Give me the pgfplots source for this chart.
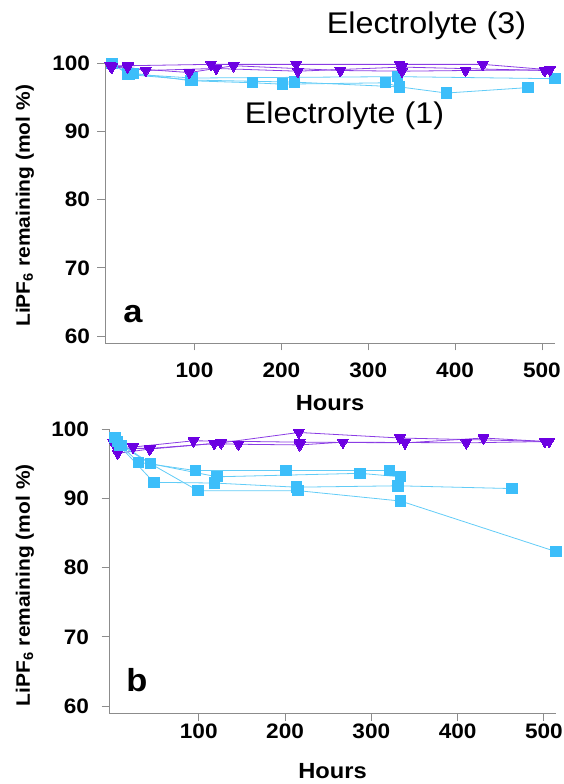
\documentclass[border=0pt]{standalone}
\usepackage{fontspec}
\setmainfont{Liberation Sans}[FakeStretch=1.08]
\usepackage{pgfplots}
\pgfplotsset{compat=1.18}

\definecolor{sqblue}{HTML}{3CBEFA}
\definecolor{sqline}{HTML}{62CCF7}
\definecolor{tripurple}{HTML}{6C00E2}
\definecolor{triline}{HTML}{8A3CE4}
\definecolor{axgray}{HTML}{8C8C8C}

\pgfplotsset{
  panel/.style={
    scale only axis,
    axis x line*=bottom, axis y line*=left,
    axis line style={-, draw=axgray, line width=0.9pt},
    tick style={draw=axgray, line width=0.9pt},
    tick align=outside, major tick length=7.5bp,
    xtick={100,200,300,400,500}, ytick={60,70,80,90,100},
    ymin=59, ymax=100,
    clip=false,
    /pgf/number format/assume math mode=true,
    ticklabel style={font=\fontsize{21}{24}\selectfont\bfseries},
    ylabel={\fontsize{19.5}{22}\selectfont\bfseries LiPF\textsubscript{6} remaining (mol \%)},
    xlabel={\fontsize{22}{26}\selectfont\bfseries Hours},
  },
  eone/.style={color=sqline, line width=0.8pt, mark=square*, mark size=5.2bp,
    mark options={fill=sqblue, draw=sqblue, line width=0pt}},
  ethree/.style={color=triline, line width=0.8pt, mark=triangle*, mark size=6.3bp,
    mark options={rotate=180, fill=tripurple, draw=tripurple, line width=0pt}},
}

\begin{document}
\begin{tikzpicture}
\path[use as bounding box] (0,0) rectangle (564bp,784bp);

% panel a
\begin{axis}[panel, at={(105bp,441bp)}, anchor=south west,
  width=450bp, height=280bp, xmin=-3, xmax=515,
  xticklabel style={yshift=-9bp},
  yticklabel style={xshift=-4bp},
  ylabel style={at={(axis description cs:-0.178,0.49)}, anchor=center},
  xlabel style={at={(axis description cs:0.5,0)}, anchor=center, yshift=-60bp},
]
\addplot[eone] coordinates {(5,99.9) (23,98.4) (98,97.8) (334,98.0) (515,97.7)};
\addplot[eone] coordinates {(5,99.9) (30,98.5) (96,97.4) (167,97.1) (201,96.9) (320,97.1) (336,96.5)};
\addplot[eone] coordinates {(5,99.9) (25,98.3) (98,97.5) (215,97.2) (336,96.5) (390,95.6) (484,96.4)};
\addplot[ethree] coordinates {(3,99.6) (23,99.6) (119,99.8) (217,99.8) (336,99.8) (432,99.8) (509,99.0)};
\addplot[ethree] coordinates {(3,99.6) (23,99.4) (44,98.9) (125,99.2) (219,98.8) (339,99.4) (503,98.9)};
\addplot[ethree] coordinates {(5,99.4) (94,98.6) (145,99.6) (268,98.9) (339,98.8) (412,98.9) (509,99.0)};
\end{axis}

% panel b
\begin{axis}[panel, at={(109bp,71bp)}, anchor=south west,
  width=447bp, height=284bp, xmin=-4, xmax=514,
  yticklabel style={xshift=-9bp},
  ylabel style={at={(axis description cs:-0.188,0.45)}, anchor=center},
  xlabel style={at={(axis description cs:0.5,0)}, anchor=center, yshift=-58.5bp},
]
\addplot[ethree] coordinates {(1,98.0) (6,96.5) (43,97.1) (126,98.0) (216,99.5) (333,98.7) (506,98.2)};
\addplot[ethree] coordinates {(1,98.0) (7,97.4) (24,97.4) (94,98.3) (217,98.1) (339,98.0) (430,98.7) (501,98.2)};
\addplot[ethree] coordinates {(1,98.0) (6,97.2) (44,97.2) (118,97.9) (146,97.8) (217,97.7) (267,98.1) (410,98.0) (506,98.2)};
\addplot[eone] coordinates {(3,98.8) (10,97.6) (30,95.2) (96,94.0) (201,94.0) (321,94.0) (334,93.1)};
\addplot[eone] coordinates {(3,98.8) (10,97.6) (44,95.0) (121,93.1) (287,93.6) (334,93.1)};
\addplot[eone] coordinates {(3,98.8) (8,97.6) (48,92.3) (118,92.2) (213,91.6) (331,91.8) (463,91.4)};
\addplot[eone] coordinates {(3,98.8) (6,98.2) (44,95.0) (99,91.1) (215,91.1) (334,89.6) (514,82.3)};
\end{axis}

\node at (426.5bp,758bp) {\fontsize{30}{34}\selectfont Electrolyte (3)};
\node at (344.5bp,668.5bp) {\fontsize{30}{34}\selectfont Electrolyte (1)};
\node at (133bp,470bp) {\fontsize{32}{36}\selectfont\bfseries a};
\node at (137bp,104bp) {\fontsize{32}{36}\selectfont\bfseries b};
\end{tikzpicture}
\end{document}
